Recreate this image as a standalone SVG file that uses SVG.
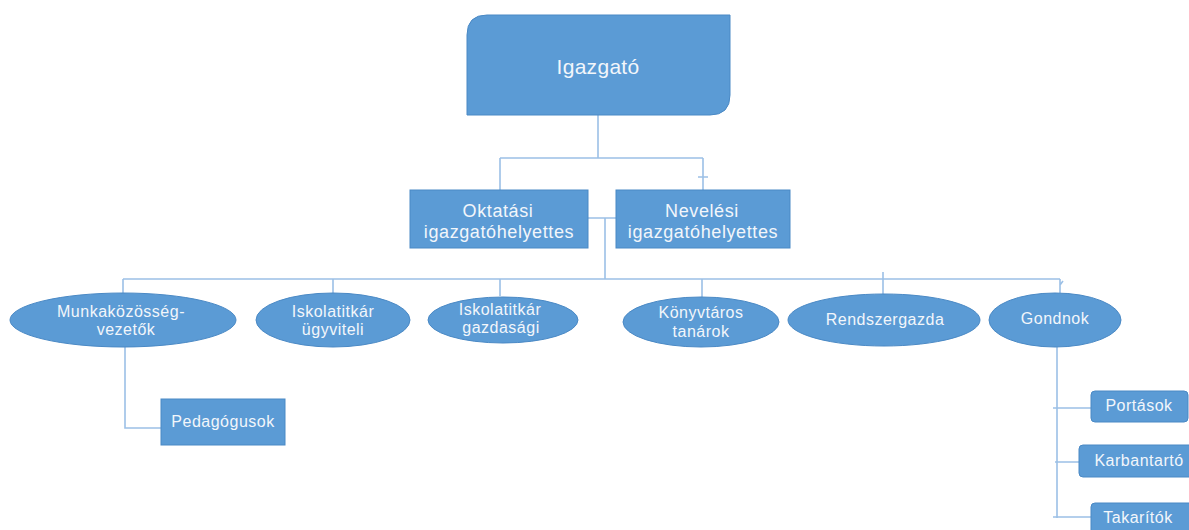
<svg xmlns="http://www.w3.org/2000/svg" width="1189" height="530" viewBox="0 0 1189 530">
<style>
.n{fill:#5B9BD5;stroke:#4A89C5;stroke-width:1}
.t{font-family:"Liberation Sans",Arial,sans-serif;fill:#F2F6FB;text-anchor:middle}
.c{fill:none;stroke:#9CC0E6;stroke-width:1.6}
</style>
<rect width="1189" height="530" fill="#fff"/>
<g id="connectors">
<path class="c" d="M598 115V158M500 158H703M500 158V190M703 158V190M698 177H708"/>
<path class="c" d="M588 218H616M605 218V279"/>
<path class="c" d="M123 279H1060M123 279V294M333 279V294M500 279V296M702 279V297M883 272V294M1060 279V293M1060 285L1063 281"/>
<path class="c" d="M125 346V428H161"/>
<path class="c" d="M1057 347V518M1053 408H1091M1055 462H1079M1053 517H1091"/>
</g>
<g id="igazgato">
<path class="n" d="M487 15H730V95Q730 115 710 115H467V35Q467 15 487 15Z"/>
<text class="t" x="598" y="74" font-size="21" letter-spacing="0.3">Igazgató</text>
</g>
<g id="oktatasi">
<rect class="n" x="410" y="190" width="178" height="58"/>
<text class="t" x="498" y="217" font-size="18" letter-spacing="0.6">Oktatási</text>
<text class="t" x="499" y="238" font-size="18" letter-spacing="0.6">igazgatóhelyettes</text>
</g>
<g id="nevelesi">
<rect class="n" x="616" y="190" width="174" height="58"/>
<text class="t" x="702" y="217" font-size="18" letter-spacing="0.6">Nevelési</text>
<text class="t" x="703" y="238" font-size="18" letter-spacing="0.6">igazgatóhelyettes</text>
</g>
<g id="munkakozosseg">
<ellipse class="n" cx="123" cy="320" rx="113" ry="27"/>
<text class="t" x="121" y="317" font-size="16" letter-spacing="0.5">Munkaközösség-</text>
<text class="t" x="126" y="335" font-size="16" letter-spacing="0.5">vezetők</text>
</g>
<g id="ugyviteli">
<ellipse class="n" cx="333" cy="320" rx="77" ry="27"/>
<text class="t" x="333" y="317" font-size="16" letter-spacing="0.5">Iskolatitkár</text>
<text class="t" x="333" y="335" font-size="16" letter-spacing="0.5">ügyviteli</text>
</g>
<g id="gazdasagi">
<ellipse class="n" cx="503" cy="320" rx="75" ry="23"/>
<text class="t" x="500" y="315" font-size="16" letter-spacing="0.5">Iskolatitkár</text>
<text class="t" x="501" y="333" font-size="16" letter-spacing="0.5">gazdasági</text>
</g>
<g id="konyvtaros">
<ellipse class="n" cx="701" cy="322" rx="78" ry="25"/>
<text class="t" x="701" y="318" font-size="16" letter-spacing="0.5">Könyvtáros</text>
<text class="t" x="701" y="337" font-size="16" letter-spacing="0.5">tanárok</text>
</g>
<g id="rendszergazda">
<ellipse class="n" cx="884" cy="320" rx="96" ry="26"/>
<text class="t" x="885" y="325" font-size="16" letter-spacing="0.5">Rendszergazda</text>
</g>
<g id="gondnok">
<ellipse class="n" cx="1055" cy="320" rx="66" ry="27"/>
<text class="t" x="1055" y="324" font-size="16" letter-spacing="0.5">Gondnok</text>
</g>
<g id="pedagogusok">
<rect class="n" x="161" y="399" width="124" height="46"/>
<text class="t" x="223" y="427" font-size="16" letter-spacing="0.5">Pedagógusok</text>
</g>
<g id="portasok">
<rect class="n" x="1091" y="391" width="97" height="31" rx="4"/>
<text class="t" x="1139" y="411" font-size="16" letter-spacing="0.5">Portások</text>
</g>
<g id="karbantarto">
<rect class="n" x="1079" y="445" width="114" height="32" rx="4"/>
<text class="t" x="1139" y="466" font-size="16" letter-spacing="0.5">Karbantartó</text>
</g>
<g id="takaritok">
<rect class="n" x="1091" y="503" width="102" height="32" rx="4"/>
<text class="t" x="1138" y="523" font-size="16" letter-spacing="0.5">Takarítók</text>
</g>
</svg>
